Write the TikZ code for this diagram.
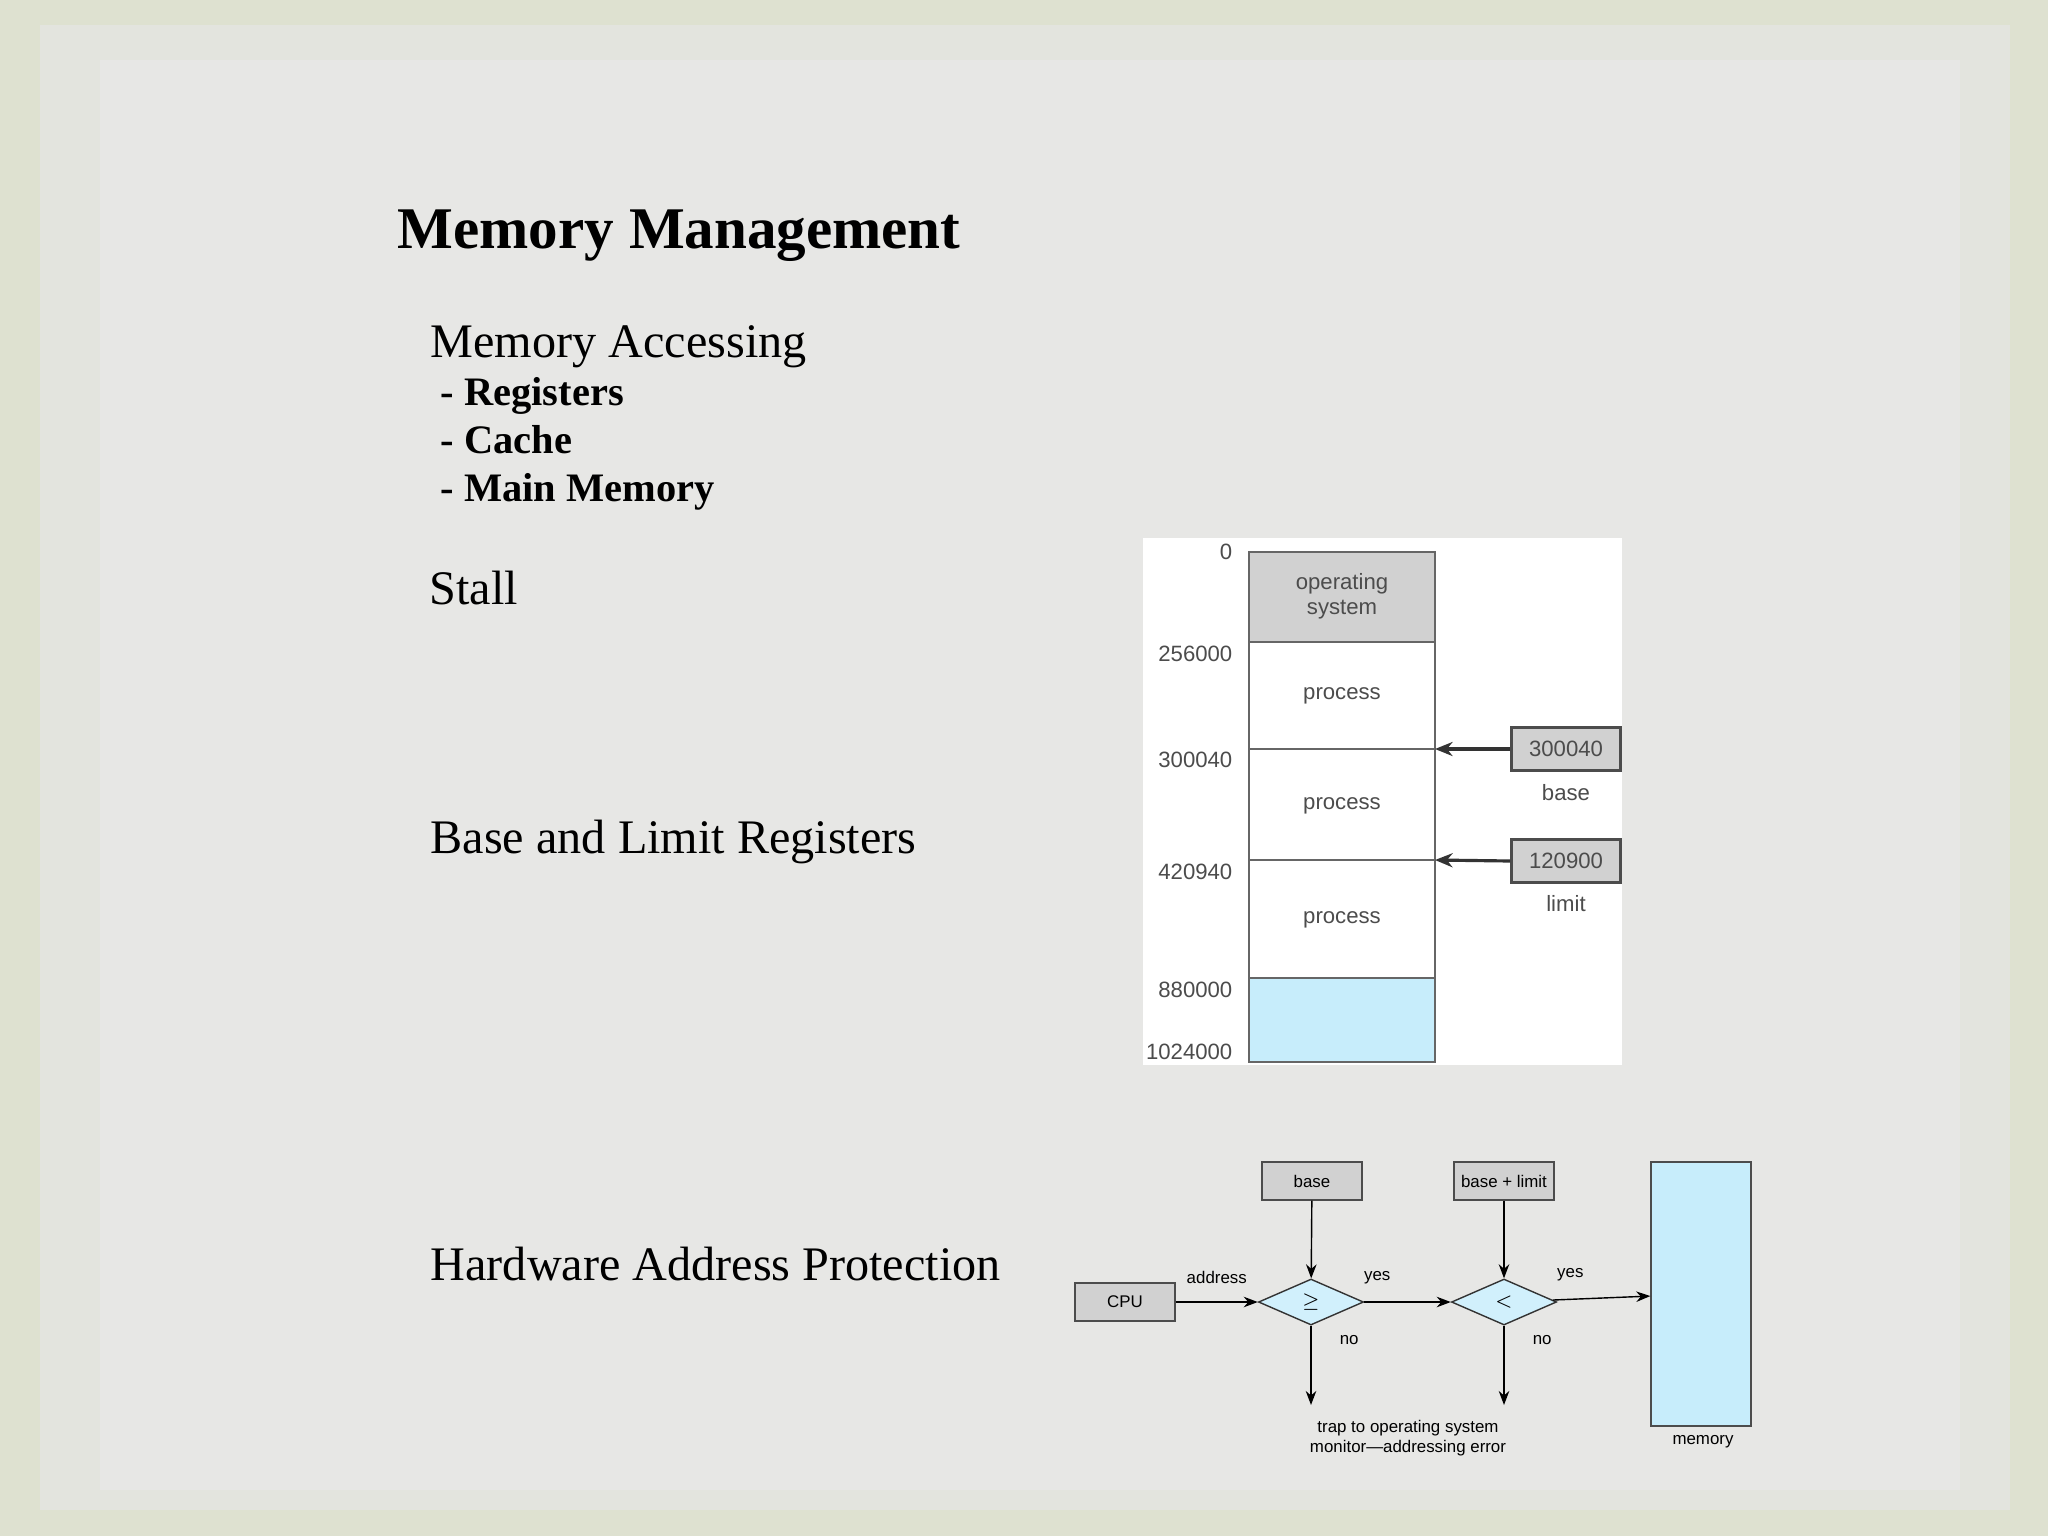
\documentclass[tikz,border=0pt]{standalone}
\usepackage{fontspec}
\setmainfont{Liberation Serif}
\newfontfamily\mysans{Liberation Sans}
\usetikzlibrary{shapes.geometric,arrows.meta}
\begin{document}
\begin{tikzpicture}[x=0.01cm,y=-0.01cm,
  lbl/.style={font=\mysans\fontsize{6.3}{7}\selectfont,text=black!70,inner sep=0},
  small/.style={font=\mysans\fontsize{4.8}{5.6}\selectfont,inner sep=0},
  fbox/.style={draw=black!70,fill=black!18,line width=0.4pt,minimum width=1cm,minimum height=0.38cm,inner sep=0},
  dia/.style={diamond,draw=black!80,fill=cyan!18,aspect=2.3,minimum width=1.05cm,minimum height=0.46cm,inner sep=0,line width=0.4pt},
  arr/.style={-{Stealth[length=4pt,width=3pt]},line width=0.4pt},
  bigt/.style={anchor=base west,inner sep=0}]
\useasboundingbox (0,0) rectangle (2048,1536);
\fill[color={rgb,255:red,222;green,225;blue,208}] (0,0) rectangle (2048,1536);
\fill[color={rgb,255:red,227;green,228;blue,222}] (40,25) rectangle (2010,1510);
\fill[color={rgb,255:red,231;green,231;blue,229}] (100,60) rectangle (1960,1490);
% text
\node[bigt,font=\bfseries\fontsize{16.8}{18}\selectfont] (title) at (397,248) {Memory Management};
\node[bigt,font=\fontsize{13.7}{15}\selectfont] (ma) at (430,357) {Memory Accessing};
\node[bigt,font=\bfseries\fontsize{11.5}{13}\selectfont] (r1) at (440,405) {- Registers};
\node[bigt,font=\bfseries\fontsize{11.5}{13}\selectfont] (r2) at (440,453) {- Cache};
\node[bigt,font=\bfseries\fontsize{11.5}{13}\selectfont] (r3) at (440,501) {- Main Memory};
\node[bigt,font=\fontsize{13.7}{15}\selectfont] (st) at (429,604) {Stall};
\node[bigt,font=\fontsize{13.7}{15}\selectfont] (bl) at (430,853) {Base and Limit Registers};
\node[bigt,font=\fontsize{13.7}{15}\selectfont] (hw) at (430,1280) {Hardware Address Protection};
% memory diagram
\fill[white] (1143,538) rectangle (1622,1065);
\draw[black!60,fill=black!18] (1249,552) rectangle (1435,642);
\draw[black!60,fill=white] (1249,642) rectangle (1435,749);
\draw[black!60,fill=white] (1249,749) rectangle (1435,860);
\draw[black!60,fill=white] (1249,860) rectangle (1435,978);
\draw[black!60,fill=cyan!22] (1249,978) rectangle (1435,1062);
\node[lbl,align=center] (os) at (1342,596) {operating\\system};
\node[lbl] (p1) at (1342,696) {process};
\node[lbl] (p2) at (1342,806) {process};
\node[lbl] (p3) at (1342,920) {process};
\node[lbl,anchor=east] (a0) at (1233,552) {0};
\node[lbl,anchor=east] (a1) at (1233,654) {256000};
\node[lbl,anchor=east] (a2) at (1233,760) {300040};
\node[lbl,anchor=east] (a3) at (1233,872) {420940};
\node[lbl,anchor=east] (a4) at (1233,990) {880000};
\node[lbl,anchor=east] (a5) at (1233,1052) {1024000};
\coordinate (e1) at (1435,749);
\coordinate (e2) at (1435,860);
\node[lbl,draw=black!70,fill=black!18,minimum width=1.09cm,minimum height=0.43cm,line width=0.8pt] (b1) at (1566,749) {300040};
\node[lbl] (bt) at (1566,793) {base};
\node[lbl,draw=black!70,fill=black!18,minimum width=1.09cm,minimum height=0.43cm,line width=0.8pt] (b2) at (1566,861) {120900};
\node[lbl] (lt) at (1566,904) {limit};
\draw[-{Stealth[length=5pt,width=4pt]},line width=0.9pt,black!80] (b1.west) -- (e1);
\draw[-{Stealth[length=5pt,width=4pt]},line width=0.9pt,black!80] (b2.west) -- (e2);
% flow diagram
\node[fbox,small] (cpu) at (1125,1302) {CPU};
\node[fbox,small] (base) at (1312,1181) {base};
\node[fbox,small] (bpl) at (1504,1181) {base + limit};
\node[dia,small] (d1) at (1311,1302) {$\geq$};
\node[dia,small] (d2) at (1504,1302) {$<$};
\node[draw=black!70,fill=cyan!22,minimum width=1cm,minimum height=2.64cm,inner sep=0,line width=0.4pt] (mem) at (1701,1294) {};
\node[small] (memt) at (1703,1442) {memory};
\coordinate (t1) at (1311,1405);
\coordinate (t2) at (1504,1405);
\node[small,align=center] (trap) at (1408,1438) {trap to operating system\\monitor\textemdash addressing error};
\draw[arr] (cpu) -- node[small,above=5pt] {address} (d1);
\draw[arr] (d1) -- node[small,above=5pt,pos=0.15] {yes} (d2);
\draw[arr] (d2) -- node[small,above=5pt,pos=0.18] {yes} (mem);
\draw[arr] (base) -- (d1);
\draw[arr] (bpl) -- (d2);
\draw[arr] (d1) -- node[small,right=8pt,pos=0.18] {no} (t1);
\draw[arr] (d2) -- node[small,right=8pt,pos=0.18] {no} (t2);
\end{tikzpicture}
\end{document}
